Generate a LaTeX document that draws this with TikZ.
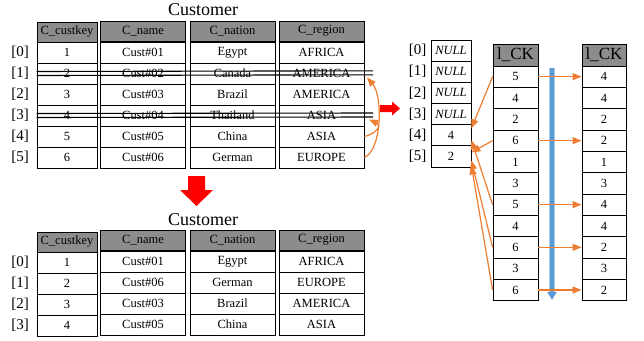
\documentclass[tikz,border=0pt]{standalone}
\usepackage{fontspec}
\setmainfont{Liberation Serif}
\usetikzlibrary{arrows.meta}
\definecolor{hdrgray}{RGB}{140,140,140}
\definecolor{ordorange}{RGB}{237,125,49}
\definecolor{sortblue}{RGB}{91,155,213}

\begin{document}
\begin{tikzpicture}[x=1pt, y=-1pt,
        cell/.style={draw, line width=0.8pt, inner sep=0pt, minimum height=21pt,
          font=\fontsize{12.5}{13}\selectfont},
        hdr/.style={cell, fill=hdrgray, minimum height=20pt},
        keycol/.style={minimum width=60pt},
        widecol/.style={minimum width=85pt},
        idx/.style={inner sep=0pt, font=\fontsize{15}{16}\selectfont},
        title/.style={inner sep=0pt, font=\fontsize{18}{20}\selectfont},
        strike/.style={line width=1.1pt},
        move/.style={draw=ordorange, line width=1.2pt,
          -{Triangle[width=7pt,length=9pt]}},
        bigarrow/.style={fill=red}, >=latex]
      \useasboundingbox (0,0) rectangle (644,340);
      % table before deletion
      \node (title1) at (203,10) [title] {Customer};
      \node (hk) at (67,32) [hdr, keycol] {C\_custkey};
      \node (hn) at (143,31) [hdr, widecol] {C\_name};
      \node (ht) at (232.5,31) [hdr, widecol] {C\_nation};
      \node (hr) at (321.5,31) [hdr, widecol] {C\_region};
      \foreach \i/\kk/\nm/\na/\rg in {0/1/01/Egypt/AFRICA, 1/2/02/Canada/AMERICA,
          2/3/03/Brazil/AMERICA, 3/4/04/Thailand/ASIA, 4/5/05/China/ASIA,
          5/6/06/German/EUROPE} {
        \node (l\i) at (20,{52.5+21*\i}) [idx] {[\i]};
        \node (k\i) at (67,{52.5+21*\i}) [cell, keycol] {\kk};
        \node (n\i) at (143,{52.5+21*\i}) [cell, widecol] {Cust\#\nm};
        \node (t\i) at (232.5,{52.5+21*\i}) [cell, widecol] {\na};
        \node (r\i) at (321.5,{52.5+21*\i}) [cell, widecol] {\rg};
      }
      \coordinate (s1) at (373,72.8);
      \coordinate (s3) at (373,115);
      \draw[strike] ([yshift=2pt]k1.west) -- ([yshift=2pt]s1);
      \draw[strike] ([yshift=-2pt]k1.west) -- ([yshift=-2pt]s1);
      \draw[strike] ([yshift=2pt]k3.west) -- ([yshift=2pt]s3);
      \draw[strike] ([yshift=-2pt]k3.west) -- ([yshift=-2pt]s3);
      \coordinate (c1) at (367,77.5);
      \coordinate (c3) at (369,119.5);
      \draw[move] (r5.east) .. controls (382,150) and (383,96) .. (c1);
      \draw[move] (r4.east) .. controls (378,133) and (381,125) .. (c3);
      % red arrows
      \coordinate (go) at (380,108.5);
      \fill[bigarrow] (go) ++(0,-3.5) -- ++(12,0) -- ++(0,-3.5) -- ++(8,7)
        -- ++(-8,7) -- ++(0,-3.5) -- ++(-12,0) -- cycle;
      \coordinate (down) at (196.5,176);
      \fill[bigarrow] (down) ++(-8.5,0) -- ++(17,0) -- ++(0,14) -- ++(8,0)
        -- ++(-16.5,16) -- ++(-16.5,-16) -- ++(8,0) -- cycle;
      % table after deletion
      \node (title2) at (203,220) [title] {Customer};
      \node (hk2) at (67,242) [hdr, keycol] {C\_custkey};
      \node (hn2) at (143,240) [hdr, widecol] {C\_name};
      \node (ht2) at (232.5,240) [hdr, widecol] {C\_nation};
      \node (hr2) at (321.5,240) [hdr, widecol] {C\_region};
      \foreach \i/\kk/\nm/\na/\rg in {0/1/01/Egypt/AFRICA, 1/2/06/German/EUROPE,
          2/3/03/Brazil/AMERICA, 3/4/05/China/ASIA} {
        \node (m\i) at (20,{262.5+21*\i}) [idx] {[\i]};
        \node (kb\i) at (67,{262.5+21*\i}) [cell, keycol] {\kk};
        \node (nb\i) at (143,{261.5+21*\i}) [cell, widecol] {Cust\#\nm};
        \node (tb\i) at (232.5,{261.5+21*\i}) [cell, widecol] {\na};
        \node (rb\i) at (321.5,{261.5+21*\i}) [cell, widecol] {\rg};
      }
      % position array
      \foreach \i/\v in {0/\textit{NULL}, 1/\textit{NULL}, 2/\textit{NULL},
          3/\textit{NULL}, 4/4, 5/2} {
        \node (j\i) at (417.5,{50.6+21.17*\i}) [idx] {[\i]};
        \node (a\i) at (451,{50.6+21.17*\i}) [cell, minimum width=40pt,
          minimum height=21.17pt] {\v};
      }
      % l_CK before and after
      \node (hp) at (515.5,55) [hdr, minimum width=45pt, minimum height=22pt,
        font=\fontsize{17}{18}\selectfont] {l\_CK};
      \node (hq) at (604,55) [hdr, minimum width=44pt, minimum height=22pt,
        font=\fontsize{17}{18}\selectfont] {l\_CK};
      \foreach \i/\u/\w in {0/5/4, 1/4/4, 2/2/2, 3/6/2, 4/1/1, 5/3/3, 6/5/4,
          7/4/4, 8/6/2, 9/3/3, 10/6/2} {
        \node (p\i) at (515.5,{76.67+21.33*\i}) [cell, minimum width=45pt,
          minimum height=21.33pt] {\u};
        \node (q\i) at (604,{76.67+21.33*\i}) [cell, minimum width=44pt,
          minimum height=21.33pt] {\w};
      }
      \coordinate (bt) at (552,68);
      \coordinate (bb) at (552,300);
      \draw[sortblue!55, line width=6pt] (bt) -- ([yshift=6pt]bb);
      \draw[sortblue, line width=4.5pt, -{Triangle[width=9pt,length=8pt]}]
        (bt) -- (bb);
      \foreach \i in {0,3,6,8,10}
        \draw[move] (p\i.east) -- (q\i.west);
      \draw[move] (p0.west) -- ([yshift=7pt]a4.east);
      \draw[move] (p6.west) -- ([yshift=-5pt]a4.east);
      \draw[move] (p3.west) -- ([yshift=4pt]a5.east);
      \draw[move] (p8.west) -- ([yshift=-4pt]a5.east);
      \draw[move] (p10.west) -- ([yshift=-9pt]a5.east);
    \end{tikzpicture}
\end{document}
